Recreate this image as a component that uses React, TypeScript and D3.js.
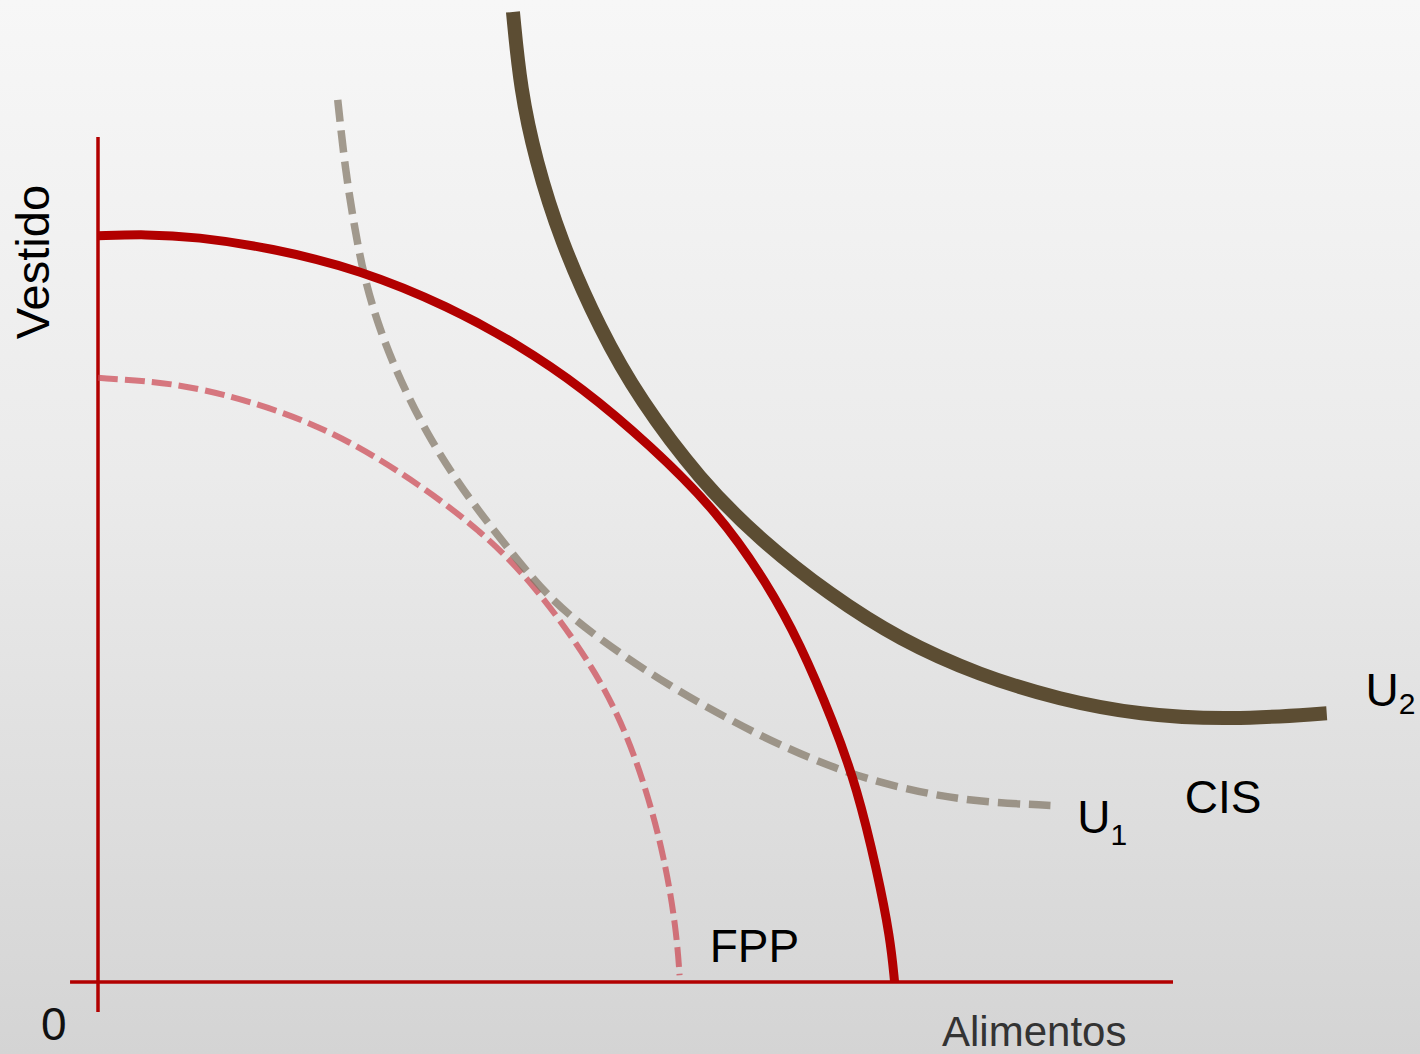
import React from "react";
import * as d3 from "d3";

// Curves (x: Alimentos, y: Vestido, abstract units)
const fppOuter: [number, number][] = [
  [0, 8.83], [0.44, 8.85], [0.91, 8.82], [1.6, 8.69], [2.44, 8.43], [3.27, 7.99],
  [3.9, 7.55], [4.51, 7.03], [5.13, 6.36], [5.76, 5.57], [6.22, 4.73], [6.53, 4.01],
  [6.84, 3.08], [7.06, 2.3], [7.25, 1.3], [7.37, 0.52], [7.41, 0],
];
const fppInner: [number, number][] = [
  [0, 7.15], [0.48, 7.11], [0.95, 7.03], [1.69, 6.77], [2.34, 6.41], [3.0, 5.88],
  [3.55, 5.35], [4.04, 4.74], [4.67, 3.63], [5.01, 2.67], [5.26, 1.56],
  [5.38, 0.62], [5.41, 0.08],
];
const u1: [number, number][] = [
  [2.23, 10.44], [2.3, 9.61], [2.39, 8.9], [2.48, 8.31], [2.62, 7.72], [2.81, 7.12],
  [3.09, 6.41], [3.46, 5.7], [3.83, 5.11], [4.2, 4.53], [4.67, 4.05], [5.23, 3.57],
  [5.79, 3.16], [6.34, 2.8], [7.0, 2.45], [7.65, 2.24], [8.2, 2.13], [8.86, 2.09],
];
const u2: [number, number][] = [
  [3.86, 11.48], [3.93, 10.56], [4.07, 9.73], [4.3, 8.78], [4.67, 7.72], [5.04, 6.89],
  [5.6, 5.94], [6.16, 5.23], [6.81, 4.58], [7.46, 4.05], [8.2, 3.63], [8.95, 3.34],
  [9.69, 3.16], [10.53, 3.1], [11.43, 3.18],
];
const axisX: [number, number][] = [[-0.26, 0], [10, 0]];
const axisY: [number, number][] = [[0, 10], [0, -0.355]];

const W = 1420;
const H = 1054;

export default function App() {
  const x = d3.scaleLinear().domain([0, 10]).range([98, 1173]);
  const y = d3.scaleLinear().domain([0, 10]).range([982, 137]);
  const curve = d3.line<[number, number]>()
    .x((d) => x(d[0]))
    .y((d) => y(d[1]))
    .curve(d3.curveBasis);
  const straight = d3.line<[number, number]>().x((d) => x(d[0])).y((d) => y(d[1]));
  const font = "'Liberation Sans', Arial, sans-serif";
  const red = "#b20000";

  return (
    <svg
      width={W}
      height={H}
      style={{ position: "absolute", left: 0, top: 0 }}
      fontFamily={font}
    >
      <defs>
        <linearGradient id="bg" x1="0" y1="0" x2="0" y2="1">
          <stop offset="0%" stopColor="#f7f7f7" />
          <stop offset="45%" stopColor="#ebebeb" />
          <stop offset="100%" stopColor="#d4d4d4" />
        </linearGradient>
      </defs>
      <rect x={0} y={0} width={W} height={H} fill="url(#bg)" />

      {/* axes */}
      <path d={straight(axisY) ?? ""} stroke={red} strokeWidth={3.5} fill="none" />
      <path d={straight(axisX) ?? ""} stroke={red} strokeWidth={3.5} fill="none" />

      {/* inner dashed FPP */}
      <path
        d={curve(fppInner) ?? ""}
        stroke="#cc4450"
        strokeOpacity={0.7}
        strokeWidth={6}
        strokeDasharray="20 7"
        fill="none"
      />
      {/* U1 dashed */}
      <path
        d={curve(u1) ?? ""}
        stroke="#7f7462"
        strokeOpacity={0.7}
        strokeWidth={7.5}
        strokeDasharray="22 9"
        fill="none"
      />
      {/* outer FPP */}
      <path d={curve(fppOuter) ?? ""} stroke={red} strokeWidth={9} fill="none" />
      {/* U2 */}
      <path d={curve(u2) ?? ""} stroke="#5c4d33" strokeWidth={14} fill="none" />

      {/* labels */}
      <text
        transform={`translate(${x(-0.6) + 15},${y(8.52)}) rotate(-90)`}
        textAnchor="middle"
        fontSize={47}
        fill="#000"
      >
        Vestido
      </text>
      <text x={x(-0.53)} y={1040} fontSize={46} fill="#111">0</text>
      <text x={942} y={1046} fontSize={42} fill="#333">Alimentos</text>
      <text x={x(5.69)} y={y(0.24)} fontSize={46} fill="#000">FPP</text>
      <text x={x(10.11)} y={y(2.0)} fontSize={46} fill="#000">CIS</text>
      <text x={x(9.11)} y={y(1.76)} fontSize={46} fill="#000">
        U<tspan fontSize={30} dy={12}>1</tspan>
      </text>
      <text x={x(11.79)} y={y(3.27)} fontSize={46} fill="#000">
        U<tspan fontSize={30} dy={8}>2</tspan>
      </text>
    </svg>
  );
}
